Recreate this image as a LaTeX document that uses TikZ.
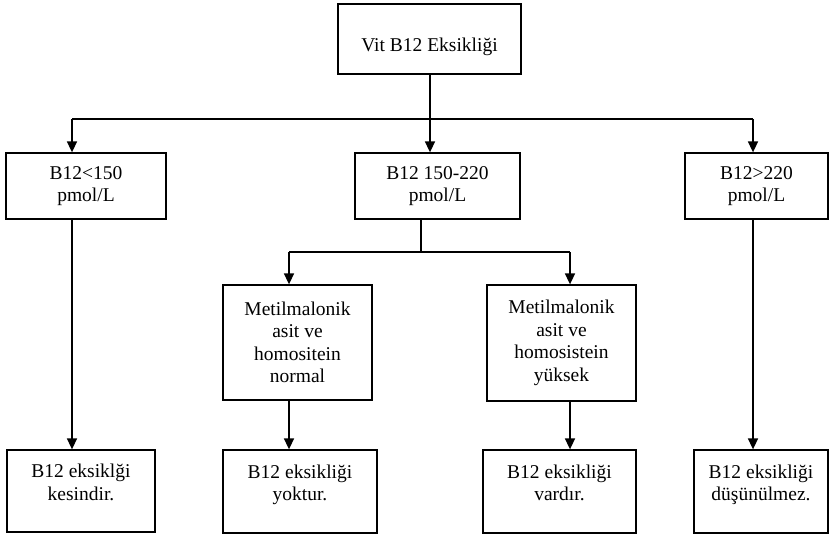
\documentclass[tikz,border=0pt]{standalone}
\usepackage{fontspec}
\setmainfont{Liberation Serif}
\usetikzlibrary{arrows.meta}
\begin{document}
\begin{tikzpicture}[x=1pt,y=-1pt,
  box/.style={draw, line width=1.3pt, rectangle, inner sep=0pt, align=center,
    font=\fontsize{19.5}{22.5}\selectfont},
  conn/.style={line width=1.6pt},
  arr/.style={line width=1.6pt, -{Triangle[width=10pt,length=11pt]}}]
\useasboundingbox (0,0) rectangle (829,536);
% boxes
\node[box, minimum width=183pt, minimum height=70pt, text height=29.5pt, text depth=4.3pt] (top) at (429.5,39) {Vit B12 Eksikliği};
\node[box, minimum width=160pt, minimum height=66pt] (b1) at (86,186) {B12<150\\pmol/L};
\node[box, minimum width=165pt, minimum height=66pt] (b2) at (437.5,186) {B12 150-220\\pmol/L};
\node[box, minimum width=143pt, minimum height=66pt] (b3) at (756.5,186) {B12>220\\pmol/L};
\node[box, minimum width=149pt, minimum height=115pt] (b4) at (297.5,342.5) {Metilmalonik\\asit ve\\homositein\\normal};
\node[box, minimum width=149pt, minimum height=116pt] (b5) at (561.5,343) {Metilmalonik\\asit ve\\homosistein\\yüksek};
\node[box, minimum width=148pt, minimum height=82pt] (b6) at (81,491) {B12 eksiklği\\kesindir.\\[-5pt]\mbox{}};
\node[box, minimum width=154pt, minimum height=83pt] (b7) at (300,491.5) {B12 eksikliği\\yoktur.\\[-5pt]\mbox{}};
\node[box, minimum width=153pt, minimum height=83pt] (b8) at (559.5,491.5) {B12 eksikliği\\vardır.\\[-5pt]\mbox{}};
\node[box, minimum width=134pt, minimum height=83pt] (b9) at (761,491.5) {B12 eksikliği\\düşünülmez.\\[-5pt]\mbox{}};
% junction coordinates
\coordinate (j1) at (430,119);
\coordinate (a1) at (72,119);
\coordinate (a3) at (753,119);
\coordinate (j2) at (421,252);
\coordinate (c4) at (289,252);
\coordinate (c5) at (570,252);
% connectors
\draw[conn] (top.south -| j1) -- (j1);
\draw[conn] (a1) -- (a3);
\draw[arr] (a1) -- (a1 |- b1.north);
\draw[arr] (j1) -- (j1 |- b2.north);
\draw[arr] (a3) -- (a3 |- b3.north);
\draw[conn] (j2 |- b2.south) -- (j2);
\draw[conn] (c4) -- (c5);
\draw[arr] (c4) -- (c4 |- b4.north);
\draw[arr] (c5) -- (c5 |- b5.north);
\draw[arr] (a1 |- b1.south) -- (a1 |- b6.north);
\draw[arr] (a3 |- b3.south) -- (a3 |- b9.north);
\draw[arr] (c4 |- b4.south) -- (c4 |- b7.north);
\draw[arr] (c5 |- b5.south) -- (c5 |- b8.north);
\end{tikzpicture}
\end{document}
